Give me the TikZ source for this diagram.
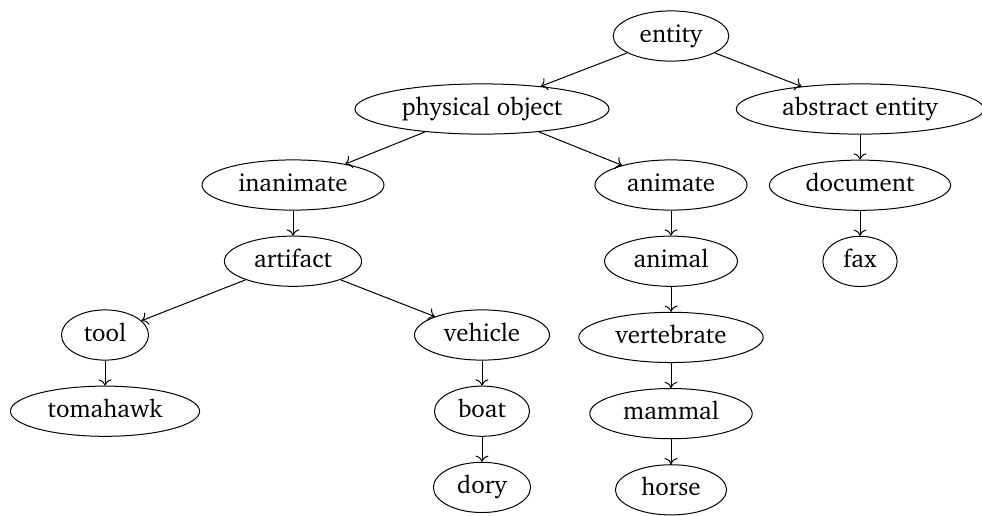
\documentclass[tikz,border=0pt]{standalone}
\usepackage[T1]{fontenc}
\usepackage{charter}
\usepackage{tikz}
\usetikzlibrary{arrows.meta,positioning,shapes.geometric}

\begin{document}
\begin{tikzpicture}[x=0.4pt,y=-0.4pt,
  node distance=10pt and 10mm,
  concept/.style={draw,ellipse,inner xsep=3.85pt,inner ysep=2.5pt,text height=7pt,text depth=2.2pt},
  arr/.style={->}
]
\useasboundingbox (0,0) rectangle (982,515);
\node[concept] (entity) at (671,36) {entity};
\node[concept] (physical) at (482,109) {physical object};
\node[concept] (abstract) at (860,109) {abstract entity};
\node[concept] (inanimate) at (293,185) {inanimate};
\node[concept] (animate) at (671,185) {animate};
\node[concept,below=of abstract] (document) {document};
\node[concept,below=of document] (fax) {fax};
\node[concept,below=of inanimate] (artifact) {artifact};
\node[concept,below=of animate] (animal) {animal};
\node[concept,below=of animal] (vertebrate) {vertebrate};
\node[concept,below=of vertebrate] (mammal) {mammal};
\node[concept,below=of mammal] (horse) {horse};
\node[concept] (tool) at (105,335) {tool};
\node[concept] (vehicle) at (482,335) {vehicle};
\node[concept,below=of tool] (tomahawk) {tomahawk};
\node[concept,below=of vehicle] (boat) {boat};
\node[concept,below=of boat] (dory) {dory};
\draw[arr] (entity) -- (physical);
\draw[arr] (entity) -- (abstract);
\draw[arr] (physical) -- (inanimate);
\draw[arr] (physical) -- (animate);
\draw[arr] (abstract) -- (document);
\draw[arr] (document) -- (fax);
\draw[arr] (inanimate) -- (artifact);
\draw[arr] (animate) -- (animal);
\draw[arr] (animal) -- (vertebrate);
\draw[arr] (vertebrate) -- (mammal);
\draw[arr] (mammal) -- (horse);
\draw[arr] (artifact) -- (tool);
\draw[arr] (artifact) -- (vehicle);
\draw[arr] (tool) -- (tomahawk);
\draw[arr] (vehicle) -- (boat);
\draw[arr] (boat) -- (dory);
\end{tikzpicture}
\end{document}
